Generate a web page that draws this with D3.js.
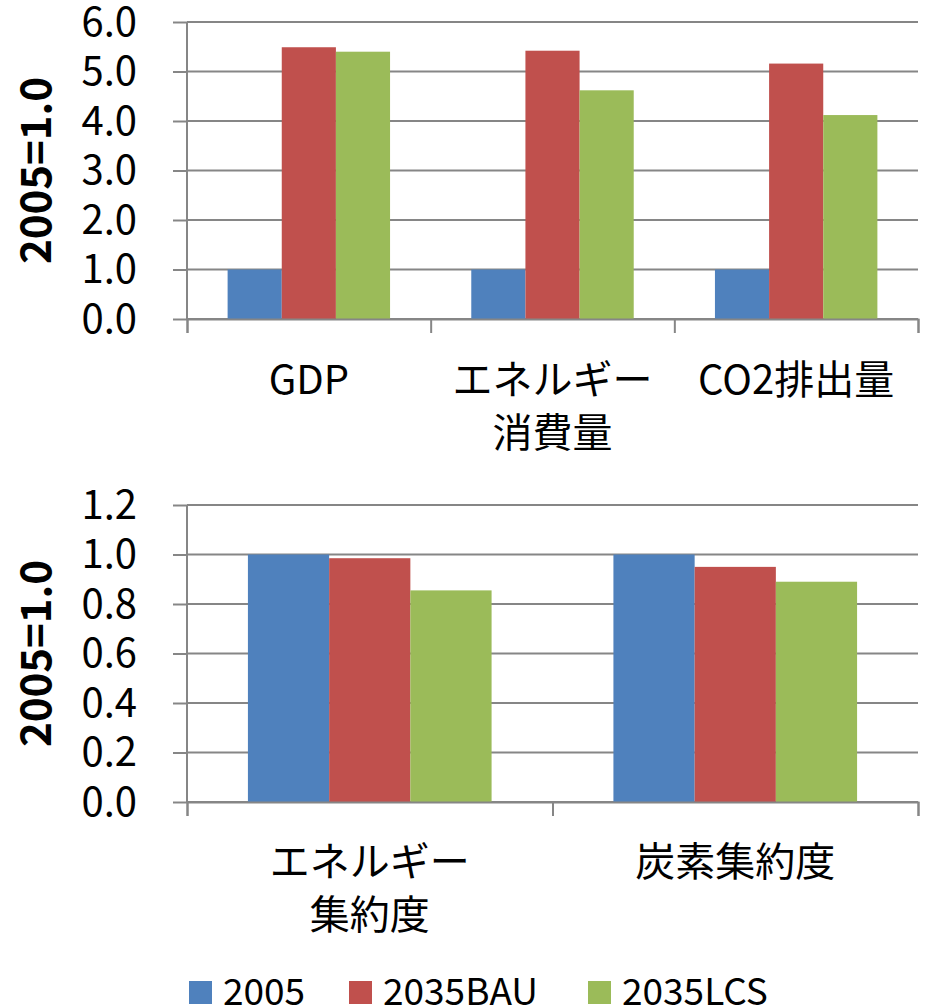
<!DOCTYPE html>
<html>
<head>
<meta charset="utf-8">
<script src="https://cdn.jsdelivr.net/npm/d3@7"></script>
<style>
  html, body { margin: 0; padding: 0; background: #fff; }
  svg { display: block; }
  text { font-family: "Noto Sans CJK JP", "Noto Sans", sans-serif; fill: #000; }
</style>
</head>
<body>
<svg id="chart" width="926" height="1008"></svg>
<script>
// Series shared by both panels
const seriesNames = ["2005", "2035BAU", "2035LCS"];
const seriesColors = ["#4F81BD", "#C0504D", "#9BBB59"];

// Upper panel: GDP, energy consumption, CO2 emissions (2005 = 1.0)
const topCategories = [["GDP"], ["エネルギー", "消費量"], ["CO2排出量"]];
const top2005 = [1.0, 1.0, 1.0];
const topBAU = [5.49, 5.42, 5.16];
const topLCS = [5.40, 4.62, 4.12];
const topTicks = [0, 1, 2, 3, 4, 5, 6];

// Lower panel: energy intensity, carbon intensity (2005 = 1.0)
const bottomCategories = [["エネルギー", "集約度"], ["炭素集約度"]];
const bottom2005 = [1.0, 1.0];
const bottomBAU = [0.985, 0.95];
const bottomLCS = [0.855, 0.89];
const bottomTicks = [0, 0.2, 0.4, 0.6, 0.8, 1.0, 1.2];

const axisTitle = "2005=1.0";
const gridColor = "#868686";

const svg = d3.select("#chart");

function drawPanel(opts) {
  const { categories, series, ticks, yTop, yBottom, xLeft, xRight, labelBaseline } = opts;
  const g = svg.append("g");

  const y = d3.scaleLinear()
    .domain([ticks[0], ticks[ticks.length - 1]])
    .range([yBottom, yTop]);

  const x0 = d3.scaleBand()
    .domain(d3.range(categories.length))
    .range([xLeft, xRight])
    .paddingInner(1 / 3)
    .paddingOuter(1 / 6);

  const x1 = d3.scaleBand()
    .domain(d3.range(series.length))
    .range([0, x0.bandwidth()]);

  // horizontal gridlines
  g.append("g").selectAll("line")
    .data(ticks)
    .join("line")
    .attr("x1", xLeft)
    .attr("x2", xRight)
    .attr("y1", d => y(d))
    .attr("y2", d => y(d))
    .attr("stroke", gridColor)
    .attr("stroke-width", 2);

  // bars
  const groups = g.append("g").selectAll("g")
    .data(categories.map((c, i) => ({ i, values: series.map(s => s[i]) })))
    .join("g")
    .attr("transform", d => `translate(${x0(d.i)},0)`);

  groups.selectAll("rect")
    .data(d => d.values.map((v, k) => ({ v, k })))
    .join("rect")
    .attr("x", d => x1(d.k))
    .attr("width", x1.bandwidth())
    .attr("y", d => y(d.v))
    .attr("height", d => y(0) - y(d.v))
    .attr("fill", d => seriesColors[d.k]);

  // value axis with outward ticks and labels
  const yAxis = g.append("g")
    .attr("transform", `translate(${xLeft},0)`)
    .call(d3.axisLeft(y)
      .tickValues(ticks)
      .tickSize(14)
      .tickPadding(36)
      .tickFormat(d3.format(".1f")));
  yAxis.select(".domain").remove();
  yAxis.selectAll(".tick line").attr("stroke", gridColor).attr("stroke-width", 2);
  yAxis.selectAll(".tick text")
    .attr("font-size", 40)
    .attr("font-family", "'Noto Sans CJK JP', sans-serif")
    .attr("dy", "0.33em")
    .attr("fill", "#000");

  // category axis: ticks at group boundaries
  const xb = d3.scaleLinear().domain([0, categories.length]).range([xLeft, xRight]);
  const xAxis = g.append("g")
    .attr("transform", `translate(0,${yBottom})`)
    .call(d3.axisBottom(xb)
      .tickValues(d3.range(categories.length + 1))
      .tickSize(14)
      .tickFormat(""));
  xAxis.select(".domain").attr("stroke", gridColor).attr("stroke-width", 2);
  xAxis.selectAll(".tick line").attr("stroke", gridColor).attr("stroke-width", 2);

  // vertical axis line
  g.append("line")
    .attr("x1", xLeft).attr("x2", xLeft)
    .attr("y1", yTop).attr("y2", yBottom)
    .attr("stroke", gridColor)
    .attr("stroke-width", 2);

  // category labels (may wrap onto two lines)
  const labels = g.append("g").selectAll("text")
    .data(categories.map((c, i) => ({ i, lines: c })))
    .join("text")
    .attr("x", d => x0(d.i) + x0.bandwidth() / 2)
    .attr("y", labelBaseline)
    .attr("text-anchor", "middle")
    .attr("font-size", 40);
  labels.selectAll("tspan")
    .data(d => d.lines.map((t, j) => ({ t, j, x: x0(d.i) + x0.bandwidth() / 2 })))
    .join("tspan")
    .attr("x", d => d.x)
    .attr("y", d => labelBaseline + d.j * 53)
    .text(d => d.t);

  // rotated axis title
  g.append("text")
    .attr("transform", `translate(51,${(yTop + yBottom) / 2}) rotate(-90)`)
    .attr("text-anchor", "middle")
    .attr("font-size", 42)
    .attr("font-weight", "bold")
    .text(axisTitle);
}

drawPanel({
  categories: topCategories,
  series: [top2005, topBAU, topLCS],
  ticks: topTicks,
  yTop: 22, yBottom: 319,
  xLeft: 187, xRight: 918,
  labelBaseline: 394
});

drawPanel({
  categories: bottomCategories,
  series: [bottom2005, bottomBAU, bottomLCS],
  ticks: bottomTicks,
  yTop: 505, yBottom: 802,
  xLeft: 187, xRight: 918,
  labelBaseline: 876
});

// legend
const legendX = [189, 349, 588];
const legend = svg.append("g").selectAll("g")
  .data(seriesNames.map((n, k) => ({ n, k })))
  .join("g")
  .attr("transform", d => `translate(${legendX[d.k]},0)`);
legend.append("rect")
  .attr("x", 0).attr("y", 981)
  .attr("width", 23).attr("height", 23)
  .attr("fill", d => seriesColors[d.k]);
legend.append("text")
  .attr("x", 34).attr("y", 1005)
  .attr("font-size", 37)
  .text(d => d.n);
</script>
</body>
</html>
